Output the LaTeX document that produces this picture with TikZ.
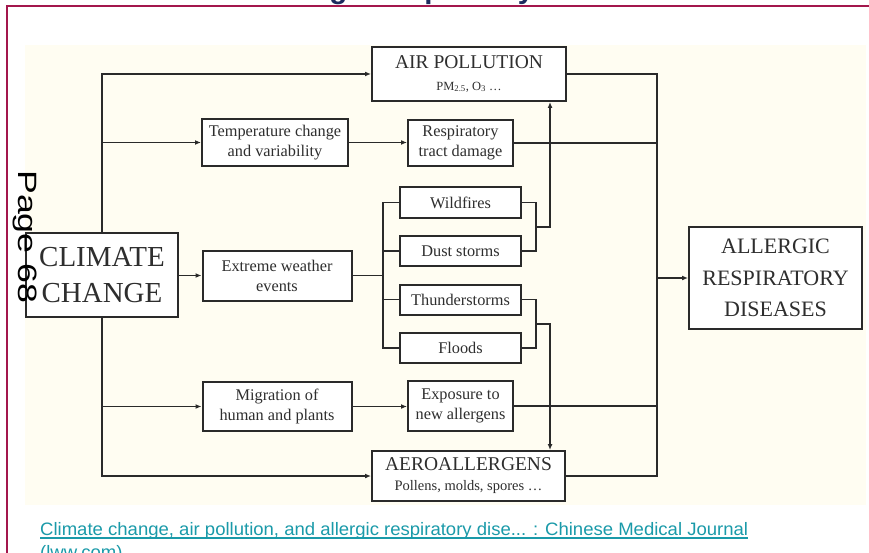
\documentclass[tikz,border=0pt]{standalone}
\usepackage{fontspec}
\setmainfont{Liberation Serif}
\setsansfont{Liberation Sans}
\usetikzlibrary{arrows.meta}
\definecolor{linec}{HTML}{2A2A2A}
\definecolor{txt}{HTML}{2E2E2E}
\definecolor{framec}{HTML}{A3174C}
\definecolor{navy}{HTML}{1C2B5E}
\definecolor{linkc}{HTML}{1A9AA9}
\definecolor{cream}{HTML}{FFFDF2}
\newsavebox\linkbox
\begin{document}
\sbox\linkbox{\color{linkc}\sffamily\fontsize{18}{20}\selectfont Climate change, air pollution, and allergic respiratory dise... : Chinese Medical Journal}%
\begin{tikzpicture}[x=1pt,y=-1pt,
  box/.style={draw=linec, line width=2pt, fill=white, text=txt, align=center, inner sep=0pt},
  smalltxt/.style={font=\fontsize{16.3}{20}\selectfont},
  wire/.style={draw=linec, line width=1.9pt},
  arr/.style={wire, -{Latex[length=6pt,width=5pt]}},
]
\clip (0,0) rectangle (869,553);
\fill[white] (0,0) rectangle (869,553);
\fill[cream] (25,45) rectangle (866,505);

% page frame and heading
\draw[framec, line width=2pt] (7,553) -- (7,6) -- (869,6);
\node[anchor=base west, inner sep=0pt, text=navy,
      font=\sffamily\bfseries\fontsize{29.5}{32}\selectfont] (title) at (263.6,-1.7)
      {Allergic respiratory diseases};

% boxes
\node[box, minimum width=152pt, minimum height=84pt,
      font=\fontsize{29}{36.3}\selectfont] (climate) at (102,275) {CLIMATE\\CHANGE};
\node[box, minimum width=194pt, minimum height=54pt,
      font=\fontsize{12.5}{21.3}\selectfont] (air) at (469,74)
      {{\fontsize{19.5}{22}\selectfont AIR POLLUTION}\\PM\textsubscript{2.5}, O\textsubscript{3} \ldots};
\node[box, smalltxt, minimum width=146pt, minimum height=47pt] (temp) at (275,142.5)
      {Temperature change\\and variability};
\node[box, smalltxt, minimum width=105pt, minimum height=46pt] (resp) at (460.5,143)
      {Respiratory\\tract damage};
\node[box, smalltxt, minimum width=149pt, minimum height=50pt] (extreme) at (277,275.5)
      {Extreme weather\\events};
\node[box, smalltxt, minimum width=121pt, minimum height=31pt] (wild) at (460.5,202.5) {Wildfires};
\node[box, smalltxt, minimum width=121pt, minimum height=30pt] (dust) at (460.5,251) {Dust storms};
\node[box, smalltxt, minimum width=121pt, minimum height=30pt] (thunder) at (460.5,299.5) {Thunderstorms};
\node[box, smalltxt, minimum width=121pt, minimum height=30pt] (floods) at (460.5,348) {Floods};
\node[box, smalltxt, minimum width=149pt, minimum height=49pt] (migr) at (277,406.5)
      {Migration of\\human and plants};
\node[box, smalltxt, minimum width=105pt, minimum height=50pt] (expo) at (460.5,406)
      {Exposure to\\new allergens};
\node[box, minimum width=193pt, minimum height=50pt,
      font=\fontsize{14.5}{20}\selectfont] (aero) at (468.5,476)
      {{\fontsize{19.5}{22}\selectfont AEROALLERGENS}\\Pollens, molds, spores \ldots};
\node[box, minimum width=173pt, minimum height=102pt,
      font=\fontsize{22}{31.5}\selectfont] (allergic) at (775.5,278)
      {ALLERGIC\\RESPIRATORY\\DISEASES};

% helper points for the branch and collector lines
\coordinate (bx) at (383,275.5);
\coordinate (mA) at (536,226.75);
\coordinate (mB) at (536,323.75);
\coordinate (upx) at (550,0);
\coordinate (col) at (657,0);

% from climate change
\draw[arr] (climate.north) |- (air.west);
\draw[arr] (climate.south) |- (aero.west);
\draw[arr] (climate.north |- temp.west) -- (temp.west);
\draw[arr] (climate.south |- migr.west) -- (migr.west);
\draw[arr] (climate.east |- extreme.west) -- (extreme.west);

\draw[arr] (temp.east) -- (temp.east -| resp.west);
\draw[arr] (migr.east) -- (migr.east -| expo.west);

% extreme weather events branch
\draw[wire] (extreme.east) -- (bx);
\draw[wire] (wild.west) -| (bx);
\draw[wire] (floods.west) -| (bx);
\draw[wire] (dust.west) -- (dust.west -| bx);
\draw[wire] (thunder.west) -- (thunder.west -| bx);

% merging lines
\draw[wire] (wild.east) -| (mA) |- (dust.east);
\draw[arr] (mA) -| (upx |- air.south);
\draw[wire] (thunder.east) -| (mB) |- (floods.east);
\draw[arr] (mB) -| (upx |- aero.north);

% collector towards the diseases
\draw[wire] (air.east) -| (col |- aero.east) -- (aero.east);
\draw[wire] (resp.east) -- (resp.east -| col);
\draw[wire] (expo.east) -- (expo.east -| col);
\draw[arr] (col |- allergic.west) -- (allergic.west);

% page number
\node[anchor=base west, rotate=-90, inner sep=0pt,
      font=\sffamily\fontsize{26.5}{30}\selectfont] (pagenum) at (18,170)
      {\resizebox{133pt}{\height}{Page 68}};

% source link
\pgfmathsetmacro{\lfac}{708pt/\wd\linkbox}
\node[anchor=base west, inner sep=0pt, text=linkc] (link) at (40,535.7)
      {\scalebox{\lfac}[1]{\usebox\linkbox}};
\draw[linkc, line width=1.6pt] ([yshift=-2.3pt]link.base west) -- ([yshift=-2.3pt]link.base east);
\node[anchor=base west, inner sep=0pt, text=linkc,
      font=\sffamily\fontsize{18}{20}\selectfont] (link2) at (40,558)
      {\scalebox{\lfac}[1]{(lww.com)}};
\end{tikzpicture}
\end{document}
